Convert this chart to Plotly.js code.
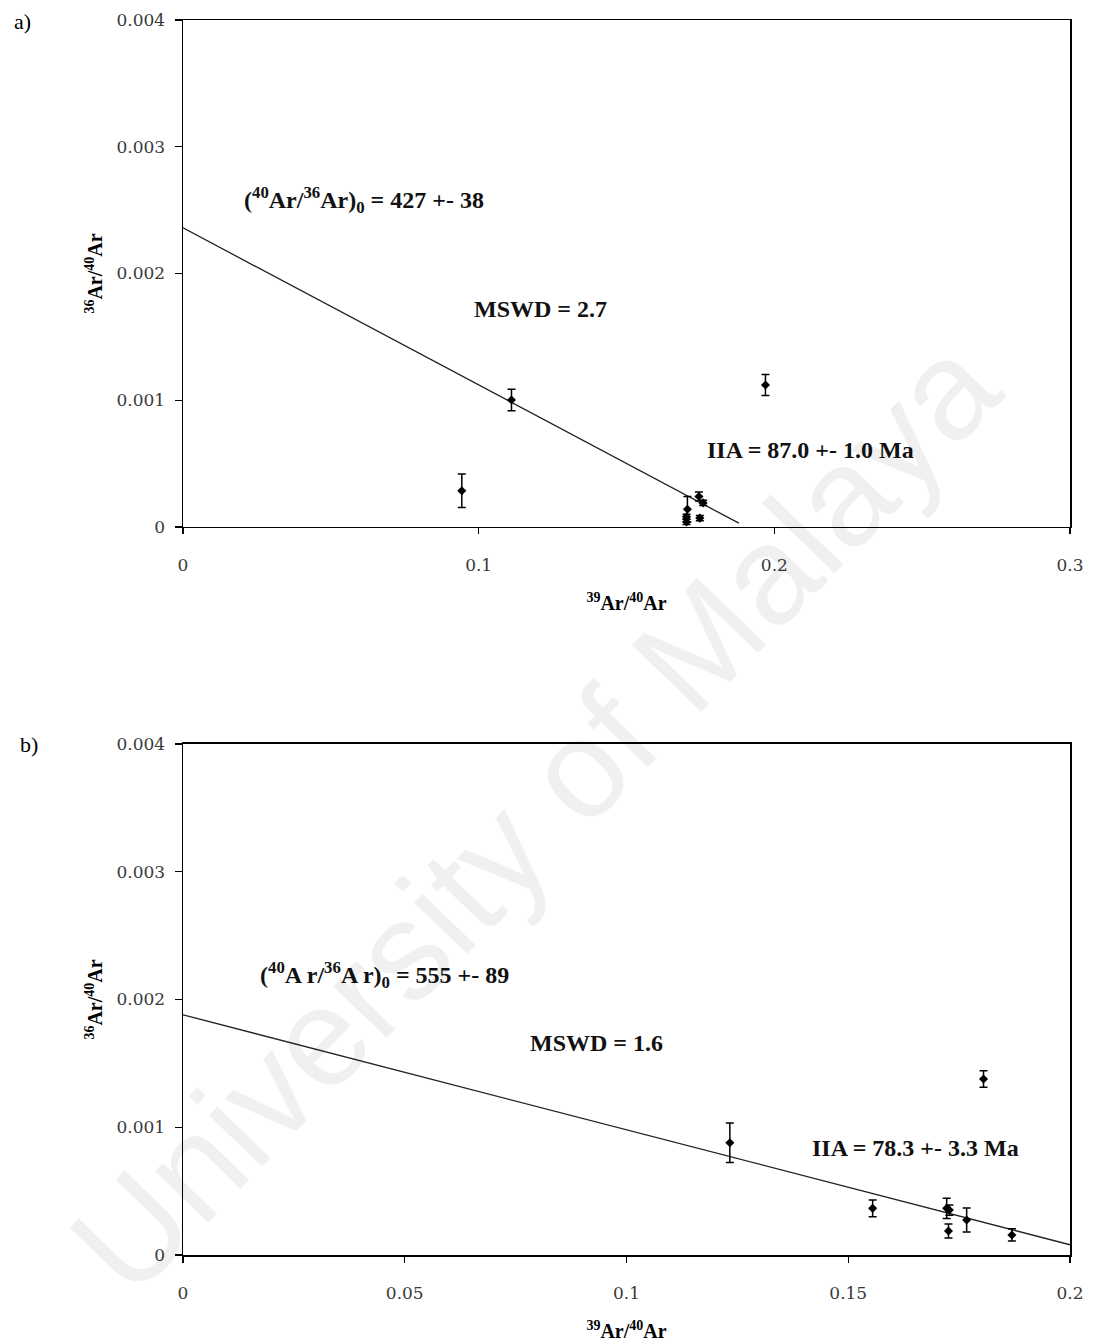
<!DOCTYPE html>
<html>
<head>
<meta charset="utf-8">
<script src="https://cdn.plot.ly/plotly-3.0.1.min.js"></script>
<style>html,body{margin:0;padding:0;background:#fff;}#chart{width:1095px;height:1344px;}</style>
</head>
<body>
<div id="chart"></div>
<script>
// ---- Panel a) data ----
var aX = [0.0943, 0.1111, 0.1970, 0.1706, 0.1703, 0.1703, 0.1745, 0.1759, 0.1748];
var aY = [0.000286, 0.001002, 0.00112, 0.00014, 0.00008, 0.00004, 0.00024, 0.00019, 0.00007];
var aErr = [0.000132, 0.000085, 0.000083, 0.0001, 0.00002, 0.00002, 0.000035, 0.00002, 0.00002];
var aFitX = [0, 0.188];
var aFitY = [0.00236, 0.00003];

// ---- Panel b) data ----
var bX = [0.1233, 0.1555, 0.1722, 0.1728, 0.1726, 0.1767, 0.1869, 0.1805];
var bY = [0.000879, 0.000365, 0.000365, 0.000352, 0.000188, 0.000274, 0.000157, 0.001378];
var bErr = [0.000154, 0.000065, 0.00008, 0.00004, 0.000055, 0.000094, 0.000048, 0.000065];
var bFitX = [0, 0.2];
var bFitY = [0.00188, 0.00008];

// ---- Tick values ----
var aXTicks = [0, 0.1, 0.2, 0.3];
var bXTicks = [0, 0.05, 0.1, 0.15, 0.2];
var yTicks = [0, 0.001, 0.002, 0.003, 0.004];

// ---- Texts ----
var aIntercept = '(<sup>40</sup>Ar/<sup>36</sup>Ar)<sub>0</sub> = 427 +- 38';
var aMswd = 'MSWD = 2.7';
var aAge = 'IIA = 87.0 +- 1.0 Ma';
var bIntercept = '(<sup>40</sup>A r/<sup>36</sup>A r)<sub>0</sub> = 555 +- 89';
var bMswd = 'MSWD = 1.6';
var bAge = 'IIA = 78.3 +- 3.3 Ma';
var xTitle = '<sup>39</sup>Ar/<sup>40</sup>Ar';
var yTitle = '<sup>36</sup>Ar/<sup>40</sup>Ar';
var watermark = 'University of Malaya';

var serif = 'Liberation Serif, Times New Roman, serif';
var tickFont = {family: 'DejaVu Serif, serif', size: 17, color: '#3a3a3a'};
var titleFont = {family: serif, size: 20, color: '#000', weight: 'bold'};
var annFont = {family: serif, size: 24, color: '#111', weight: 'bold'};

function pts(x, y, e, xa, ya) {
  return {x: x, y: y, xaxis: xa, yaxis: ya, type: 'scatter', mode: 'markers',
    marker: {symbol: 'diamond', size: 7, color: '#000'},
    error_y: {type: 'data', array: e, visible: true, color: '#000', thickness: 1.5, width: 4},
    showlegend: false, hoverinfo: 'skip'};
}
function fit(x, y, xa, ya) {
  return {x: x, y: y, xaxis: xa, yaxis: ya, type: 'scatter', mode: 'lines',
    line: {color: '#222', width: 1.3}, showlegend: false, hoverinfo: 'skip'};
}

var data = [
  fit(aFitX, aFitY, 'x', 'y'),
  pts(aX, aY, aErr, 'x', 'y'),
  fit(bFitX, bFitY, 'x2', 'y2'),
  pts(bX, bY, bErr, 'x2', 'y2')
];

function xax(range, ticks, domainAnchor) {
  return {domain: [0, 1], anchor: domainAnchor, range: range, tickmode: 'array', tickvals: ticks,
    ticktext: ticks.map(String), ticks: 'outside', ticklen: 6, tickwidth: 1.3, tickcolor: '#000',
    showline: true, linecolor: '#000', linewidth: 1.5, mirror: true, showgrid: false, zeroline: false,
    tickfont: tickFont, ticklabelstandoff: 16, automargin: false,
    title: {text: xTitle, font: titleFont, standoff: 22}};
}
function yax(domain, xAnchor) {
  return {domain: domain, anchor: xAnchor, range: [0, 0.004], tickmode: 'array', tickvals: yTicks,
    ticktext: yTicks.map(String), ticks: 'outside', ticklen: 7, tickwidth: 1.3, tickcolor: '#000',
    showline: true, linecolor: '#000', linewidth: 1.5, mirror: true, showgrid: false, zeroline: false,
    tickfont: tickFont, ticklabelstandoff: 6, automargin: false,
    title: {text: yTitle, font: titleFont, standoff: 8}};
}
function xIn(over, range, ticks, anchor) {
  return {overlaying: over, anchor: anchor, range: range, tickmode: 'array', tickvals: ticks,
    ticks: 'inside', ticklen: 5, tickwidth: 1.3, tickcolor: '#000', showticklabels: false,
    showline: false, showgrid: false, zeroline: false, domain: [0, 1]};
}
function yIn(over, anchor) {
  return {overlaying: over, anchor: anchor, range: [0, 0.004], tickmode: 'array', tickvals: yTicks,
    ticks: 'inside', ticklen: 7, tickwidth: 1.3, tickcolor: '#000', showticklabels: false,
    showline: false, showgrid: false, zeroline: false};
}

var topDomain = [0.5895, 1];
var botDomain = [0, 0.4138];

var layout = {
  width: 1095, height: 1344,
  margin: {l: 183, r: 25, t: 20, b: 89},
  paper_bgcolor: '#fff', plot_bgcolor: 'rgba(0,0,0,0)',
  showlegend: false,
  xaxis: xax([0, 0.3], aXTicks, 'y'),
  yaxis: yax(topDomain, 'x'),
  xaxis2: xax([0, 0.2], bXTicks, 'y2'),
  yaxis2: yax(botDomain, 'x2'),
  xaxis3: xIn('x', [0, 0.3], aXTicks, 'y'),
  yaxis3: Object.assign(yIn('y', 'x'), {domain: topDomain}),
  xaxis4: xIn('x2', [0, 0.2], bXTicks, 'y2'),
  yaxis4: Object.assign(yIn('y2', 'x2'), {domain: botDomain}),
  annotations: [
    {text: watermark, xref: 'paper', yref: 'paper', x: 0.3968, y: 0.3563, xanchor: 'center', yanchor: 'middle',
     showarrow: false, textangle: -46, font: {family: 'Liberation Sans, Arial, sans-serif', size: 140, color: 'rgba(0,0,0,0.06)'}},
    {text: 'a)', xref: 'paper', yref: 'paper', x: -0.1815, y: 0.9984, xanchor: 'center', yanchor: 'middle', showarrow: false,
     font: {family: serif, size: 22, color: '#000'}},
    {text: 'b)', xref: 'paper', yref: 'paper', x: -0.1736, y: 0.413, xanchor: 'center', yanchor: 'middle', showarrow: false,
     font: {family: serif, size: 22, color: '#000'}},
    {text: aIntercept, xref: 'x', yref: 'y', x: 0.020, y: 0.00258, xanchor: 'left', showarrow: false, font: annFont},
    {text: aMswd, xref: 'x', yref: 'y', x: 0.0977, y: 0.001716, xanchor: 'left', showarrow: false, font: annFont},
    {text: aAge, xref: 'x', yref: 'y', x: 0.1765, y: 0.000607, xanchor: 'left', showarrow: false, font: annFont},
    {text: bIntercept, xref: 'x2', yref: 'y2', x: 0.0169, y: 0.00219, xanchor: 'left', showarrow: false, font: annFont},
    {text: bMswd, xref: 'x2', yref: 'y2', x: 0.0778, y: 0.00166, xanchor: 'left', showarrow: false, font: annFont},
    {text: bAge, xref: 'x2', yref: 'y2', x: 0.1414, y: 0.000838, xanchor: 'left', showarrow: false, font: annFont}
  ]
};

Plotly.newPlot('chart', data, layout, {displayModeBar: false, staticPlot: true});
</script>
</body>
</html>
